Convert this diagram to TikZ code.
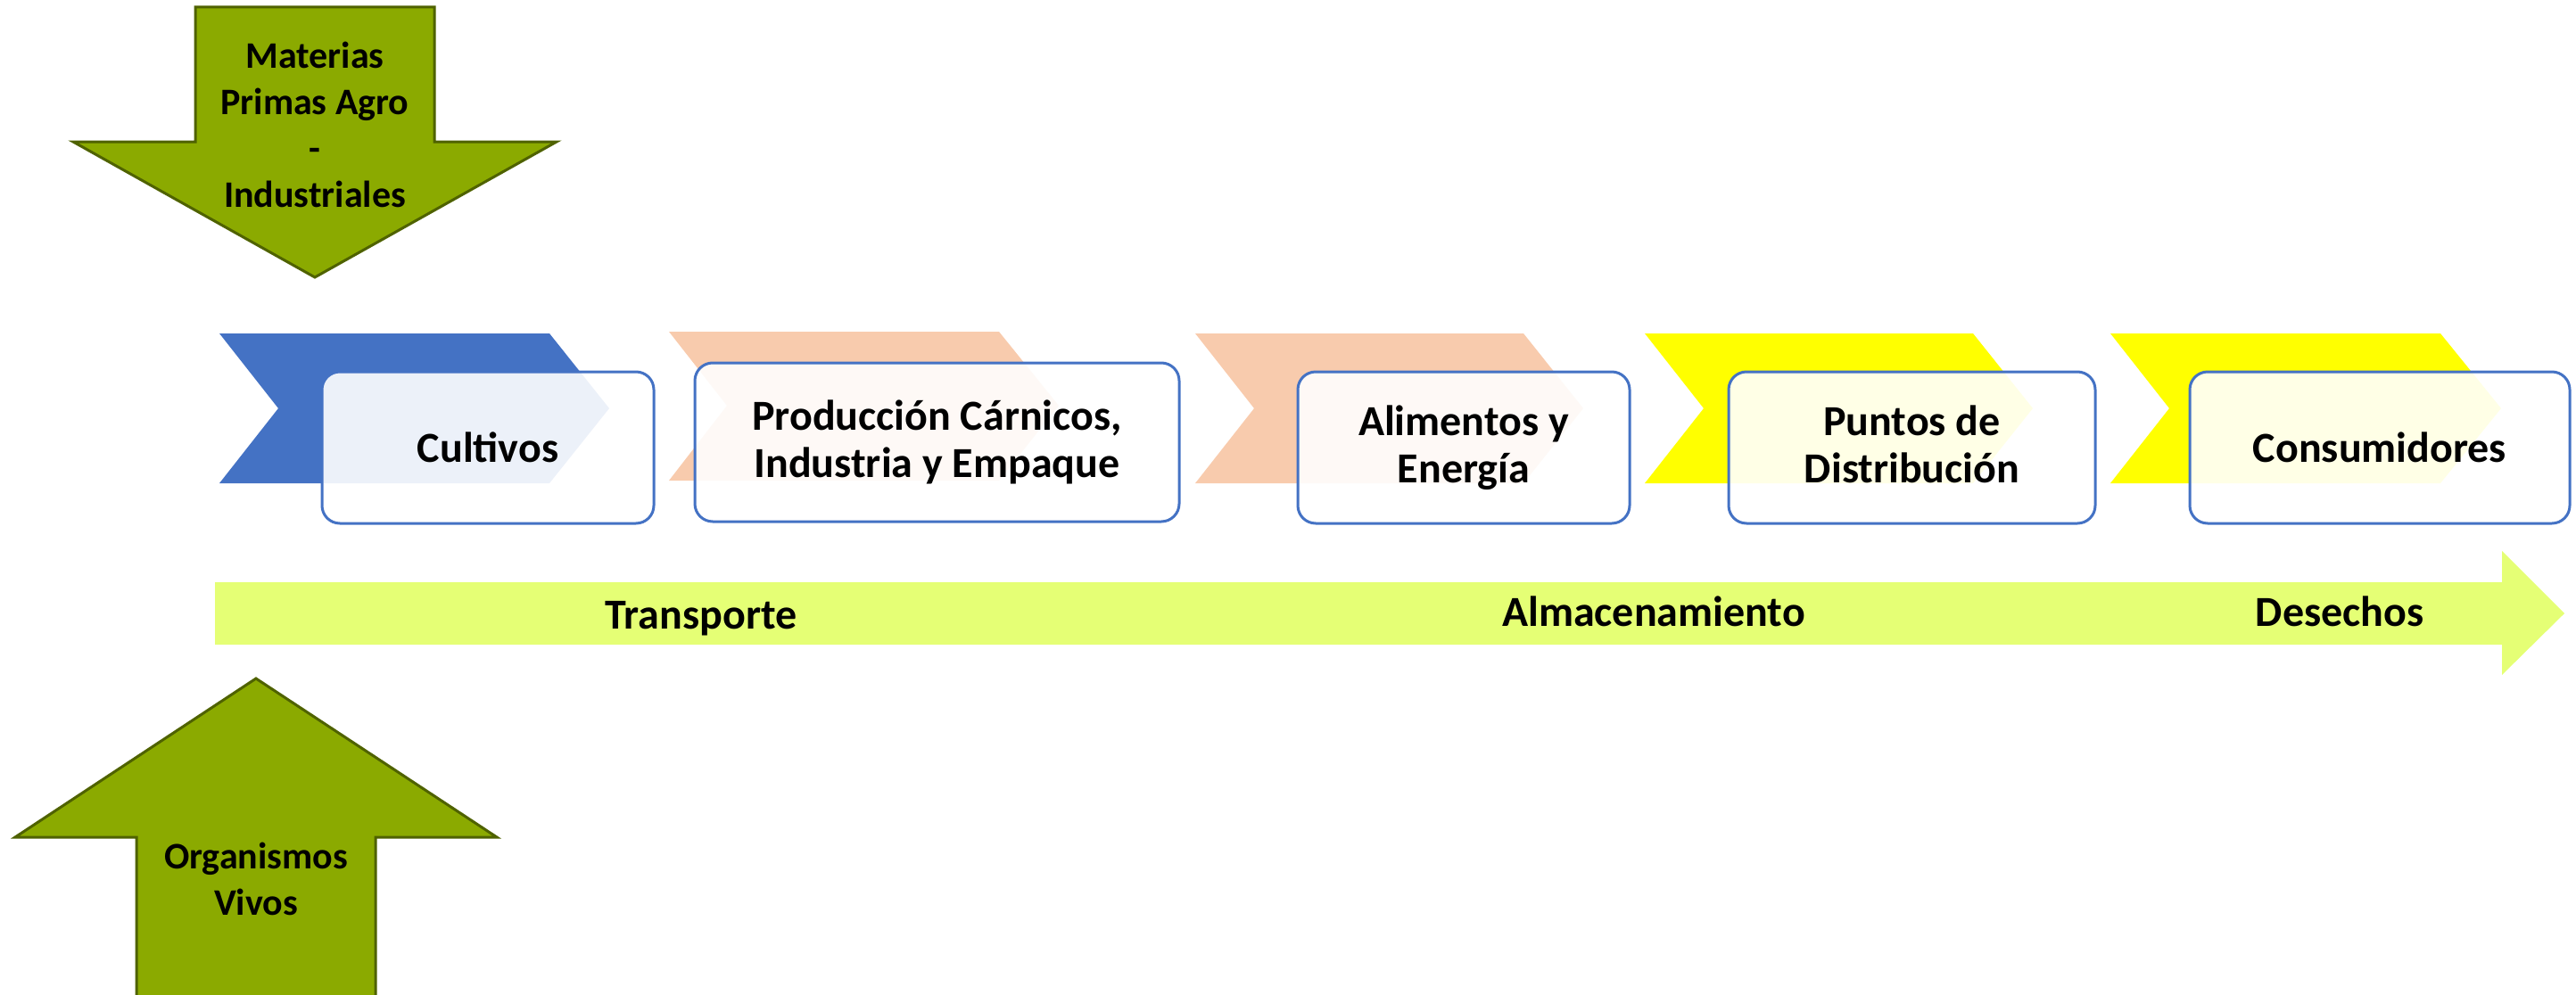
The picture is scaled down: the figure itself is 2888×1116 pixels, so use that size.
\documentclass[tikz,border=0pt]{standalone}
\usepackage{fontspec}
\setmainfont{Carlito}
\definecolor{chevblue}{RGB}{68,114,196}
\definecolor{chevpeach}{RGB}{248,203,173}
\definecolor{chevyellow}{RGB}{255,255,0}
\definecolor{boxblue}{RGB}{68,114,196}
\definecolor{olivefill}{RGB}{139,170,0}
\definecolor{olivedraw}{RGB}{79,98,0}
\definecolor{barfill}{RGB}{229,255,117}
\tikzset{
  stagebox/.style={draw=boxblue, line width=3pt, rounded corners=20pt, fill=white,
    fill opacity=0.9, text opacity=1, inner sep=0pt, align=center,
    font=\bfseries\fontsize{48}{53}\selectfont},
  greenarrow/.style={fill=olivefill, draw=olivedraw, line width=3pt, line join=miter},
  greenlabel/.style={font=\bfseries\fontsize{42}{52}\selectfont, align=center, inner sep=0pt},
  barlabel/.style={font=\bfseries\fontsize{48}{53}\selectfont, anchor=base, inner sep=0pt}
}
\begin{document}
\begin{tikzpicture}[x=1pt,y=-1pt]
\useasboundingbox (0,0) rectangle (2888,1116);

% green input arrows
\draw[greenarrow] (219,8) -- (487,8) -- (487,159) -- (624,159) -- (353,311) -- (82,159) -- (219,159) -- cycle;
\node[greenlabel] (mat) at (353,140) {Materias\\Primas Agro\\-\\Industriales};

\draw[greenarrow] (287,761) -- (557,939) -- (421,939) -- (421,1130) -- (153,1130) -- (153,939) -- (17,939) -- cycle;
\node[greenlabel] (org) at (287,986) {Organismos\\Vivos};

% chevrons
\fill[chevblue]   (246,374) -- (616,374) -- (683,458) -- (616,542) -- (246,542) -- (312,458) -- cycle;
\fill[chevpeach]  (750,372) -- (1120,372) -- (1187,455) -- (1120,539) -- (750,539) -- (815,455) -- cycle;
\fill[chevpeach]  (1340,374) -- (1708,374) -- (1775,458) -- (1708,542) -- (1340,542) -- (1406,458) -- cycle;
\fill[chevyellow] (1844,374) -- (2212,374) -- (2279,458) -- (2212,542) -- (1844,542) -- (1910,458) -- cycle;
\fill[chevyellow] (2366,374) -- (2736,374) -- (2804,458) -- (2736,542) -- (2366,542) -- (2432,458) -- cycle;

% stage boxes
\node[stagebox, minimum width=372pt, minimum height=170pt] (b1) at (547,502) {Cultivos};
\node[stagebox, minimum width=543pt, minimum height=178pt] (b2) at (1050.5,496) {Producción Cárnicos,\\Industria y Empaque};
\node[stagebox, minimum width=372pt, minimum height=170pt] (b3) at (1641,502) {Alimentos y\\Energía};
\node[stagebox, minimum width=411pt, minimum height=170pt] (b4) at (2143.5,502) {Puntos de\\Distribución\vphantom{g}};
\node[stagebox, minimum width=426pt, minimum height=170pt] (b5) at (2668,502) {Consumidores};

% long arrow
\fill[barfill] (241,653) -- (2805,653) -- (2805,618) -- (2875,688) -- (2805,757) -- (2805,723) -- (241,723) -- cycle;
\node[barlabel] (t1) at (786,705) {Transporte};
\node[barlabel] (t2) at (1854,702) {Almacenamiento};
\node[barlabel] (t3) at (2623,702) {Desechos};
\end{tikzpicture}
\end{document}
